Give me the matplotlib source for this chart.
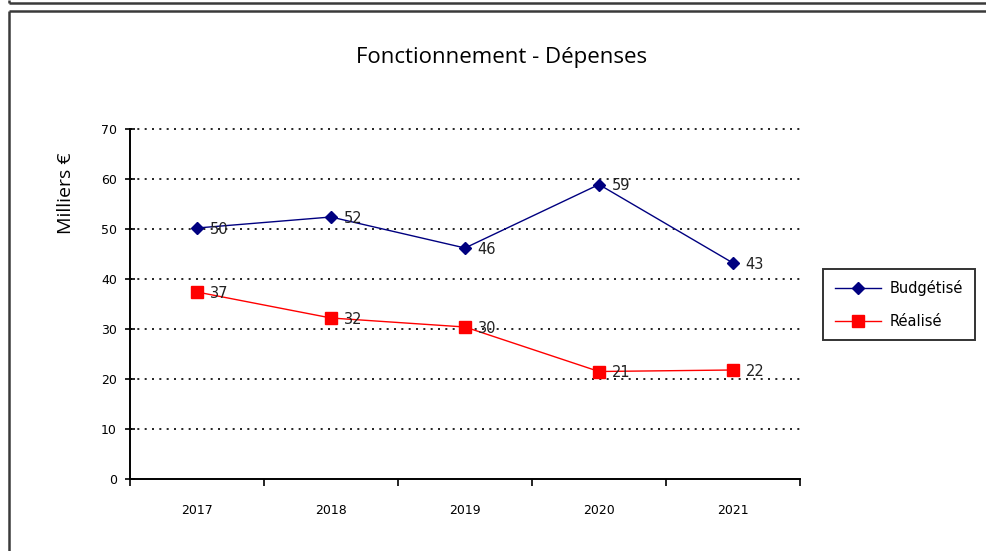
import matplotlib.pyplot as plt
from matplotlib.lines import Line2D

# données
annees = ["2017", "2018", "2019", "2020", "2021"]
budgetise = [50.2, 52.4, 46.2, 58.9, 43.2]
realise = [37.4, 32.2, 30.4, 21.5, 21.8]
etiq_budget = ["50", "52", "46", "59", "43"]
etiq_realise = ["37", "32", "30", "21", "22"]

W, H = 986, 551
fig = plt.figure(figsize=(W / 100, H / 100), dpi=100)


def fx(px):
    return px / W


def fy(py):
    return 1 - py / H


# cadres (haut de la capture)
cadre = dict(color="#3a3a3a", linewidth=1.8, solid_capstyle="butt")
fig.add_artist(Line2D([fx(9), fx(W)], [fy(2.5), fy(2.5)], **cadre))
fig.add_artist(Line2D([fx(9), fx(9)], [fy(0), fy(2.5)], **cadre))
fig.add_artist(Line2D([fx(9), fx(W)], [fy(10.5), fy(10.5)], **cadre))
fig.add_artist(Line2D([fx(9), fx(9)], [fy(10.5), fy(H)], **cadre))

ax = fig.add_axes([fx(130), fy(479), fx(800) - fx(130), fy(129) - fy(479)])

x = list(range(len(annees)))
ax.plot(x, budgetise, color="#000080", linewidth=1, marker="D", markersize=6.5,
        label="Budgétisé", zorder=3)
ax.plot(x, realise, color="#ff0000", linewidth=1, marker="s", markersize=9,
        label="Réalisé", zorder=3)

for i in x:
    ax.annotate(etiq_budget[i], (i, budgetise[i]), xytext=(9, -1), textcoords="offset points",
                ha="left", va="center", fontsize=10.5, color="#222222", zorder=4)
    ax.annotate(etiq_realise[i], (i, realise[i]), xytext=(9, -1), textcoords="offset points",
                ha="left", va="center", fontsize=10.5, color="#222222", zorder=4)

ax.set_xlim(-0.5, 4.5)
ax.set_ylim(0, 70)
ax.set_yticks(range(0, 71, 10))
ax.set_xticks([i - 0.5 for i in range(6)])
ax.set_xticklabels([])
ax.set_xticks(x, minor=True)
ax.set_xticklabels(annees, minor=True)
ax.tick_params(axis="x", which="major", direction="out", length=5, width=1.2)
ax.tick_params(axis="x", which="minor", length=0, pad=18, labelsize=9)
ax.tick_params(axis="y", direction="inout", length=7, width=1.2, pad=6, labelsize=9)

for s in ["top", "right"]:
    ax.spines[s].set_visible(False)
for s in ["left", "bottom"]:
    ax.spines[s].set_linewidth(1.4)

for v in range(10, 71, 10):
    ax.axhline(v, color="black", linestyle=(0, (1.2, 3.2)), linewidth=1.2, zorder=1,
               clip_on=False)

fig.text(fx(502), fy(57), "Fonctionnement - Dépenses", ha="center", va="center",
         fontsize=16, family="Open Sans")
fig.text(fx(66), fy(193), "Milliers €", ha="center", va="center", rotation=90,
         fontsize=14, family="Open Sans")

leg = fig.legend(loc="center", bbox_to_anchor=(fx(899), fy(304.5)), fontsize=10.5,
                 frameon=True, fancybox=False, edgecolor="black", handlelength=3.2,
                 borderpad=0.8, labelspacing=1.2, handletextpad=0.6)
leg.get_frame().set_linewidth(1.4)

fig.savefig("out.png", dpi=100)
